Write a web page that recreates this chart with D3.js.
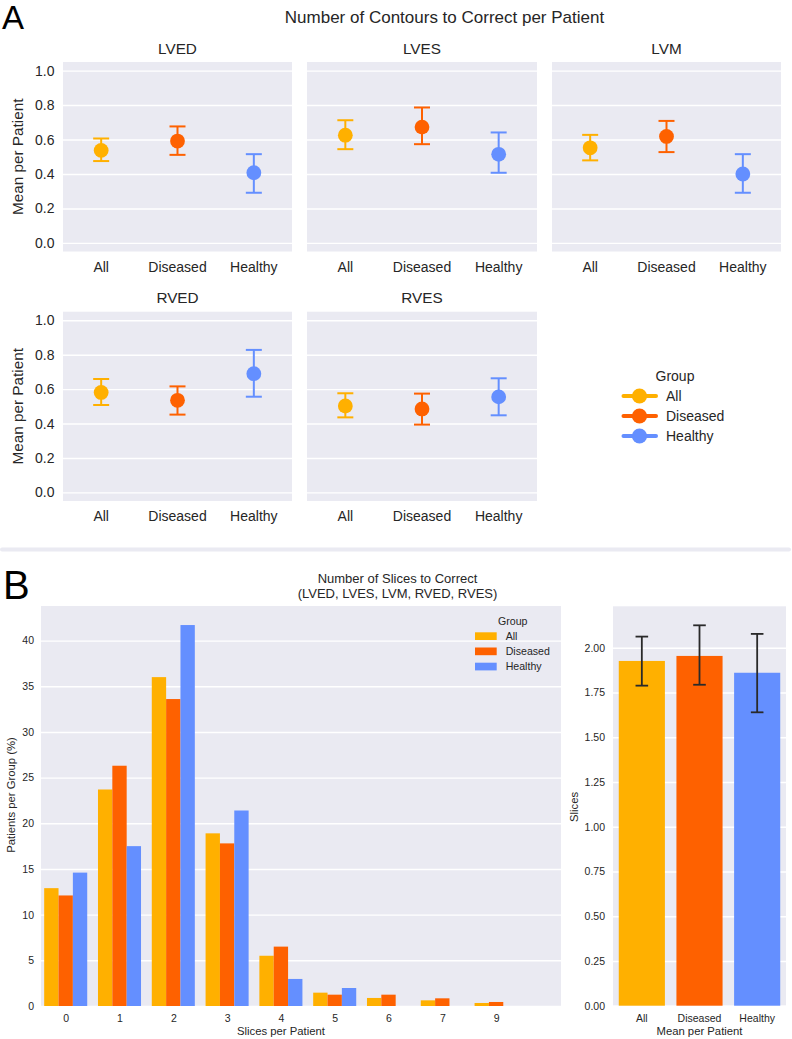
<!DOCTYPE html>
<html>
<head>
<meta charset="utf-8">
<script src="https://cdn.jsdelivr.net/npm/d3@7"></script>
<style>
  body { margin: 0; background: #fff; }
  svg { font-family: "Liberation Sans", Arial, Helvetica, sans-serif; }
</style>
</head>
<body>
<svg id="fig" width="792" height="1039"></svg>
<script>
// groups shared by both panels
var groups = ["All", "Diseased", "Healthy"];
var groupColors = ["#FFB000", "#FE6100", "#648FFF"];

// panel A: mean contours to correct per patient (with CI)
var structures = ["LVED", "LVES", "LVM", "RVED", "RVES"];
var contourMean = [[0.537, 0.591, 0.407], [0.625, 0.672, 0.514], [0.552, 0.618, 0.400], [0.581, 0.535, 0.690], [0.502, 0.485, 0.555]];
var contourLow  = [[0.475, 0.511, 0.291], [0.544, 0.573, 0.407], [0.479, 0.527, 0.291], [0.508, 0.452, 0.556], [0.436, 0.394, 0.448]];
var contourHigh = [[0.606, 0.676, 0.515], [0.712, 0.786, 0.641], [0.627, 0.708, 0.515], [0.659, 0.616, 0.828], [0.576, 0.574, 0.663]];
var contourTicks = [0, 0.2, 0.4, 0.6, 0.8, 1.0];

// panel B left: share of patients by number of slices to correct (%)
var sliceCounts = ["0", "1", "2", "3", "4", "5", "6", "7", "9"];
var slicesAll      = [12.9, 23.7, 36.0, 18.9, 5.5, 1.46, 0.88, 0.62, 0.33];
var slicesDiseased = [12.1, 26.3, 33.6, 17.8, 6.5, 1.24, 1.24, 0.84, 0.44];
var slicesHealthy  = [14.6, 17.5, 41.7, 21.4, 2.96, 1.97, 0, 0, 0];
var percentTicks = [0, 5, 10, 15, 20, 25, 30, 35, 40];

// panel B right: mean slices per patient (with CI)
var sliceMean = [1.926, 1.954, 1.860];
var sliceLow  = [1.788, 1.793, 1.639];
var sliceHigh = [2.062, 2.125, 2.077];
var meanTicks = [0, 0.25, 0.5, 0.75, 1.0, 1.25, 1.5, 1.75, 2.0];

var bg = "#EAEAF2", ink = "#262626";
var svg = d3.select("#fig");

function styleGrid(g) {
  g.select(".domain").remove();
  g.selectAll(".tick line").attr("stroke", "#fff").attr("stroke-width", 1.4);
  g.selectAll(".tick text").attr("fill", ink);
}

// ---------- panel A ----------
svg.append("text").attr("x", 2).attr("y", 28.5)
  .style("font-size", "33px").attr("fill", "#000").text("A");
svg.append("text").attr("x", 444.5).attr("y", 22.5).attr("text-anchor", "middle")
  .style("font-size", "17px").attr("fill", ink)
  .text("Number of Contours to Correct per Patient");

// facet boxes (left, right, top, bottom)
var facets = [
  [63, 292, 62, 251.5], [307, 537, 62, 251.5], [552, 781, 62, 251.5],
  [63, 292, 311.7, 501], [307, 537, 311.7, 501]
];

structures.forEach(function(name, i) {
  var f = facets[i];
  var x = d3.scaleBand().domain(groups).range([f[0], f[1]]);
  var y = d3.scaleLinear().domain([-0.05, 1.05]).range([f[3], f[2]]);
  var g = svg.append("g");

  g.append("rect").attr("x", f[0]).attr("y", f[2])
    .attr("width", f[1] - f[0]).attr("height", f[3] - f[2]).attr("fill", bg);

  var ya = g.append("g").attr("transform", "translate(" + f[0] + ",0)")
    .call(d3.axisLeft(y).tickValues(contourTicks).tickSize(-(f[1] - f[0]))
      .tickPadding(8.5).tickFormat(d3.format(".1f")));
  styleGrid(ya);
  ya.selectAll(".tick text").style("font-size", "14px");
  if (f[0] > 100) ya.selectAll(".tick text").remove();

  var xa = g.append("g").attr("transform", "translate(0," + f[3] + ")")
    .call(d3.axisBottom(x).tickSize(0).tickPadding(10.5));
  xa.select(".domain").remove();
  xa.selectAll(".tick text").attr("fill", ink).style("font-size", "14px");

  g.append("text").attr("x", (f[0] + f[1]) / 2).attr("y", f[2] - 8.5)
    .attr("text-anchor", "middle").style("font-size", "15.3px").attr("fill", ink)
    .text(name);

  if (f[0] < 100) {
    g.append("text")
      .attr("transform", "translate(23," + (f[2] + f[3]) / 2 + ") rotate(-90)")
      .attr("text-anchor", "middle").style("font-size", "15.3px").attr("fill", ink)
      .text("Mean per Patient");
  }

  groups.forEach(function(grp, j) {
    var cx = x(grp) + x.bandwidth() / 2, c = groupColors[j];
    g.append("line").attr("x1", cx).attr("x2", cx)
      .attr("y1", y(contourLow[i][j])).attr("y2", y(contourHigh[i][j]))
      .attr("stroke", c).attr("stroke-width", 2);
    [contourLow[i][j], contourHigh[i][j]].forEach(function(v) {
      g.append("line").attr("x1", cx - 8).attr("x2", cx + 8)
        .attr("y1", y(v)).attr("y2", y(v))
        .attr("stroke", c).attr("stroke-width", 2);
    });
    g.append("circle").attr("cx", cx).attr("cy", y(contourMean[i][j]))
      .attr("r", 7.4).attr("fill", c);
  });
});

// legend A
var legA = svg.append("g");
legA.append("text").attr("x", 675).attr("y", 380.7).attr("text-anchor", "middle")
  .style("font-size", "14px").attr("fill", ink).text("Group");
groups.forEach(function(grp, j) {
  var ly = 396 + j * 20;
  legA.append("line").attr("x1", 623.5).attr("x2", 656).attr("y1", ly).attr("y2", ly)
    .attr("stroke", groupColors[j]).attr("stroke-width", 4).attr("stroke-linecap", "round");
  legA.append("circle").attr("cx", 639.5).attr("cy", ly).attr("r", 7.6).attr("fill", groupColors[j]);
  legA.append("text").attr("x", 666).attr("y", ly + 5).style("font-size", "14px")
    .attr("fill", ink).text(grp);
});

// separator
svg.append("line").attr("x1", 2).attr("x2", 789).attr("y1", 549.5).attr("y2", 549.5)
  .attr("stroke", bg).attr("stroke-width", 4).attr("stroke-linecap", "round");

// ---------- panel B ----------
svg.append("text").attr("x", 3).attr("y", 599).style("font-size", "40px")
  .attr("fill", "#000").text("B");
var tB = svg.append("text").attr("text-anchor", "middle").style("font-size", "13px").attr("fill", ink);
tB.append("tspan").attr("x", 397.5).attr("y", 583).text("Number of Slices to Correct");
tB.append("tspan").attr("x", 397.5).attr("y", 597.5).text("(LVED, LVES, LVM, RVED, RVES)");

// left: distribution bars
var L = { left: 41, right: 561, top: 606, bottom: 1006 };
var sliceSeries = [slicesAll, slicesDiseased, slicesHealthy];
var xs = d3.scalePoint().domain(sliceCounts).range([65.7, 496.1]);
var xsub = d3.scaleBand().domain(groups).range([-0.4 * xs.step(), 0.4 * xs.step()]);
var yp = d3.scaleLinear()
  .domain([0, d3.max(sliceSeries, function(s) { return d3.max(s); }) * 1.05])
  .range([L.bottom, L.top]);

var gL = svg.append("g");
gL.append("rect").attr("x", L.left).attr("y", L.top)
  .attr("width", L.right - L.left).attr("height", L.bottom - L.top).attr("fill", bg);
var yaL = gL.append("g").attr("transform", "translate(" + L.left + ",0)")
  .call(d3.axisLeft(yp).tickValues(percentTicks).tickSize(-(L.right - L.left)).tickPadding(7));
styleGrid(yaL);
yaL.selectAll(".tick text").style("font-size", "10.5px");

sliceSeries.forEach(function(series, j) {
  gL.selectAll(".bar" + j).data(series).enter().append("rect")
    .attr("x", function(d, k) { return xs(sliceCounts[k]) + xsub(groups[j]); })
    .attr("width", xsub.bandwidth())
    .attr("y", function(d) { return yp(d); })
    .attr("height", function(d) { return L.bottom - yp(d); })
    .attr("fill", groupColors[j]);
});

var xaL = gL.append("g").attr("transform", "translate(0," + L.bottom + ")")
  .call(d3.axisBottom(xs).tickSize(0).tickPadding(8.5));
xaL.select(".domain").remove();
xaL.selectAll(".tick text").attr("fill", ink).style("font-size", "10.5px");

gL.append("text").attr("x", 281).attr("y", 1034.5).attr("text-anchor", "middle")
  .style("font-size", "11.3px").attr("fill", ink).text("Slices per Patient");
gL.append("text").attr("transform", "translate(14.5,795) rotate(-90)")
  .attr("text-anchor", "middle").style("font-size", "11.3px").attr("fill", ink)
  .text("Patients per Group (%)");

// legend B
gL.append("text").attr("x", 512.7).attr("y", 625).attr("text-anchor", "middle")
  .style("font-size", "10.6px").attr("fill", ink).text("Group");
groups.forEach(function(grp, j) {
  gL.append("rect").attr("x", 475).attr("y", 632.3 + j * 15.2)
    .attr("width", 21.7).attr("height", 7.7).attr("fill", groupColors[j]);
  gL.append("text").attr("x", 505.7).attr("y", 640 + j * 15.2)
    .style("font-size", "10.6px").attr("fill", ink).text(grp);
});

// right: mean slices bars
var R = { left: 613, right: 786, top: 606.3, bottom: 1005.7 };
var xb = d3.scaleBand().domain(groups).range([R.left, R.right]).paddingInner(0.2).paddingOuter(0.1);
var ym = d3.scaleLinear().domain([0, d3.max(sliceHigh) * 1.05]).range([R.bottom, R.top]);

var gR = svg.append("g");
gR.append("rect").attr("x", R.left).attr("y", R.top)
  .attr("width", R.right - R.left).attr("height", R.bottom - R.top).attr("fill", bg);
var yaR = gR.append("g").attr("transform", "translate(" + R.left + ",0)")
  .call(d3.axisLeft(ym).tickValues(meanTicks).tickSize(-(R.right - R.left))
    .tickPadding(8).tickFormat(d3.format(".2f")));
styleGrid(yaR);
yaR.selectAll(".tick text").style("font-size", "10.5px");

gR.selectAll(".mbar").data(sliceMean).enter().append("rect")
  .attr("x", function(d, j) { return xb(groups[j]); })
  .attr("width", xb.bandwidth())
  .attr("y", function(d) { return ym(d); })
  .attr("height", function(d) { return R.bottom - ym(d); })
  .attr("fill", function(d, j) { return groupColors[j]; });

groups.forEach(function(grp, j) {
  var cx = xb(grp) + xb.bandwidth() / 2;
  gR.append("line").attr("x1", cx).attr("x2", cx)
    .attr("y1", ym(sliceLow[j])).attr("y2", ym(sliceHigh[j]))
    .attr("stroke", "#2a2a2a").attr("stroke-width", 1.8);
  [sliceLow[j], sliceHigh[j]].forEach(function(v) {
    gR.append("line").attr("x1", cx - 6.3).attr("x2", cx + 6.3)
      .attr("y1", ym(v)).attr("y2", ym(v))
      .attr("stroke", "#2a2a2a").attr("stroke-width", 1.8);
  });
});

var xaR = gR.append("g").attr("transform", "translate(0," + R.bottom + ")")
  .call(d3.axisBottom(xb).tickSize(0).tickPadding(8.5));
xaR.select(".domain").remove();
xaR.selectAll(".tick text").attr("fill", ink).style("font-size", "10.5px");

gR.append("text").attr("x", 699.5).attr("y", 1034.5).attr("text-anchor", "middle")
  .style("font-size", "11.3px").attr("fill", ink).text("Mean per Patient");
gR.append("text").attr("transform", "translate(577.5,807) rotate(-90)")
  .attr("text-anchor", "middle").style("font-size", "11.3px").attr("fill", ink)
  .text("Slices");
</script>
</body>
</html>
